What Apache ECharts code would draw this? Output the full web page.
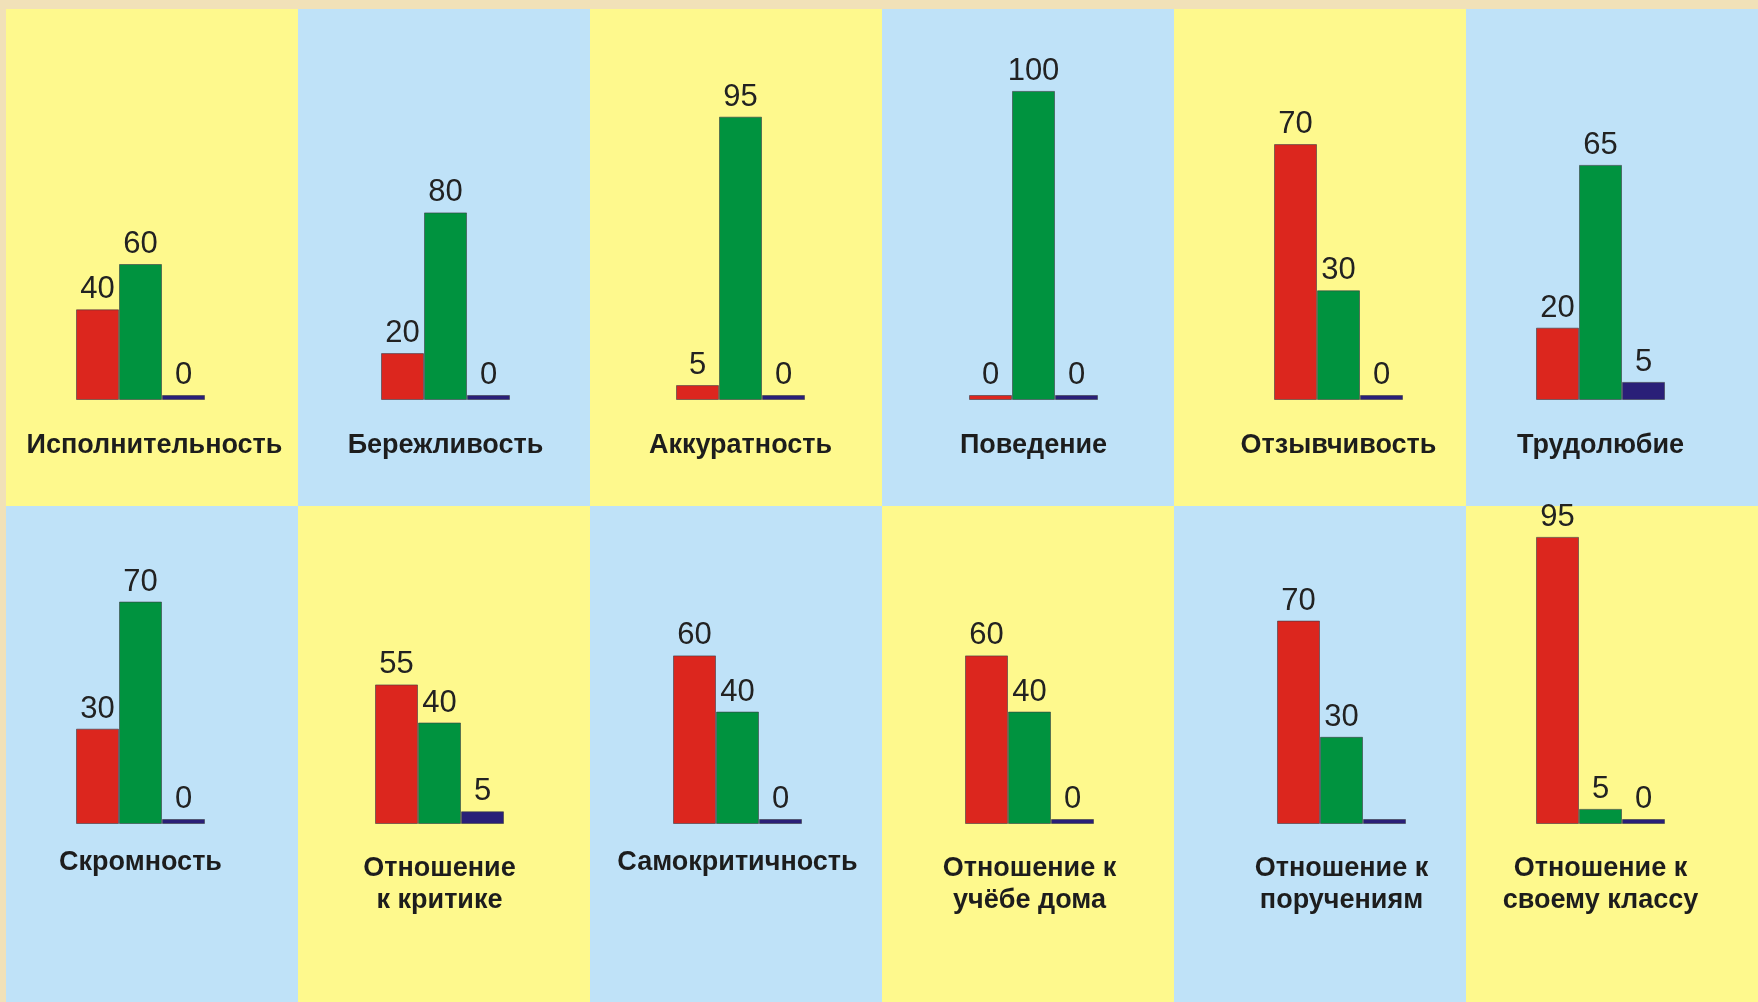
<!DOCTYPE html>
<html>
<head>
<meta charset="utf-8">
<script src="https://cdn.jsdelivr.net/npm/echarts@6/dist/echarts.min.js"></script>
<style>
  html, body { margin: 0; padding: 0; background: #f1e1b8; }
  #chart { width: 1758px; height: 1002px; }
</style>
</head>
<body>
<div id="chart"></div>
<script>
// одна панель = одна характеристика
const categories = [
    'Исполнительность', 'Бережливость', 'Аккуратность', 'Поведение', 'Отзывчивость', 'Трудолюбие',
    'Скромность', 'Отношение\nк критике', 'Самокритичность', 'Отношение к\nучёбе дома',
    'Отношение к\nпоручениям', 'Отношение к\nсвоему классу'
]
const redValues = [40, 20, 5, 0, 70, 20, 30, 55, 60, 60, 70, 95]
const greenValues = [60, 80, 95, 100, 30, 65, 70, 40, 40, 40, 30, 5]
const blueValues = [0, 0, 0, 0, 0, 5, 0, 5, 0, 0, 0, 0]
// на картинке у синего столбика "поручениям" нет подписи
const blueLabelShown = [true, true, true, true, true, true, true, true, true, true, false, true]
// у каждой панели своя шкала
const axisMax = [150, 145, 114, 110, 93, 94, 107, 134, 121, 121, 117, 112.5]

// раскладка
const panelLeft0 = 6, panelTop0 = 9, panelW = 292, panelH = 497
const plotH = 340
const baselines = [400, 824]
const groupOffset = [70, 83, 86, 87, 100, 70, 70, 77, 83, 83, 103, 70]
const titleShift = [14, 0, 0, 0, 0, 0, 0, 0, 0, 0, 0, 0]
const barW = 43
const colors = { red: '#dc261e', green: '#00933f', blue: '#2a1f78' }
const panelColors = ['#fef98d', '#bfe2f8']

const chart = echarts.init(document.getElementById('chart'))

const grids = [], xAxes = [], yAxes = [], series = [], graphics = []

categories.forEach((name, i) => {
    const row = Math.floor(i / 6), col = i % 6
    const px = panelLeft0 + col * panelW
    const py = panelTop0 + row * panelH
    graphics.push({
        type: 'rect', z: -10,
        shape: { x: px, y: py, width: panelW + 1, height: panelH + 1 },
        style: { fill: panelColors[(row + col) % 2] }
    })
    const gl = px + groupOffset[i]
    const base = baselines[row]
    grids.push({ left: gl, top: base - plotH, width: barW * 3, height: plotH })
    xAxes.push({ type: 'category', gridIndex: i, data: [''], show: false })
    yAxes.push({ type: 'value', gridIndex: i, min: 0, max: axisMax[i], show: false })

    const mk = (vals, color, showLabel) => ({
        type: 'bar', xAxisIndex: i, yAxisIndex: i,
        data: [vals[i]],
        barWidth: barW, barGap: '0%', barMinHeight: 5,
        itemStyle: { color: color, borderColor: 'rgba(60,60,70,0.6)', borderWidth: 1 },
        label: {
            show: showLabel, position: 'top', distance: 4,
            fontFamily: 'Liberation Sans, Arial', fontSize: 31, color: '#222'
        },
        silent: true, animation: false
    })
    series.push(mk(redValues, colors.red, true))
    series.push(mk(greenValues, colors.green, true))
    series.push(mk(blueValues, colors.blue, blueLabelShown[i]))

    const oneLine = name.indexOf('\n') < 0
    graphics.push({
        type: 'text',
        x: gl + barW * 1.5 + titleShift[i],
        y: row === 0 ? 446 : (oneLine ? 863 : 885),
        style: {
            text: name, align: 'center', verticalAlign: 'middle',
            font: 'bold 27px "Liberation Sans", Arial', lineHeight: 32, fill: '#1d1d1d'
        }
    })
})

chart.setOption({
    backgroundColor: '#f1e1b8',
    animation: false,
    grid: grids,
    xAxis: xAxes,
    yAxis: yAxes,
    series: series,
    graphic: graphics
})
</script>
</body>
</html>
